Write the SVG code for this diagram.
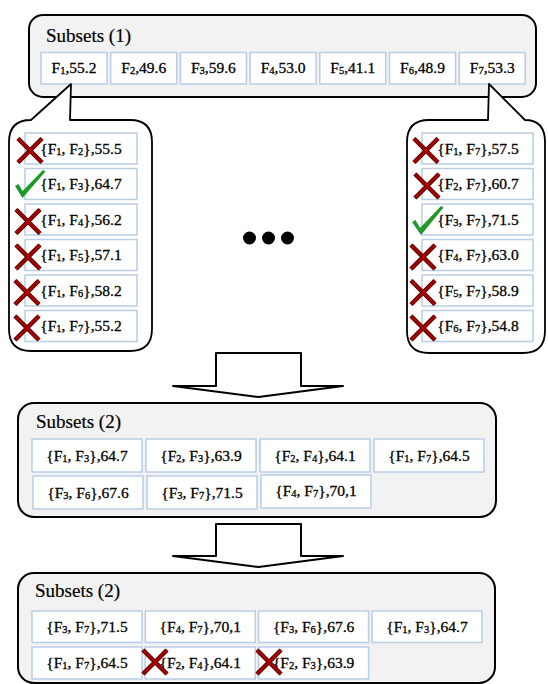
<svg xmlns="http://www.w3.org/2000/svg" width="548" height="684" viewBox="0 0 548 684">
<style>
.ctr{fill:#f2f2f2;stroke:#000;stroke-width:2}
.box{fill:#fff;stroke:#b9cde5;stroke-width:1.5}
.bub{fill:#fff;stroke:#000;stroke-width:1.8;stroke-linejoin:round}
.arr{fill:#fff;stroke:#000;stroke-width:2;stroke-linejoin:round}
.t{font-family:"Liberation Serif","Times New Roman",serif;font-size:15.5px;fill:#000;stroke:#000;stroke-width:0.3;text-anchor:middle}
.ttl{font-family:"Liberation Serif","Times New Roman",serif;font-size:19px;fill:#000;stroke:#000;stroke-width:0.2}
.s{font-size:10.5px;baseline-shift:-1px}
.xo{stroke:#4d0000;stroke-width:4.5;fill:none}
.xi{stroke:#a80000;stroke-width:2.5;fill:none}
.chk{fill:#1f9a2a}
</style>
<defs>
<g id="xm"><path class="xo" d="M-12,-12L12,12M12,-12L-12,12"/><path class="xi" d="M-12,-12L12,12M12,-12L-12,12"/></g>
</defs>

<g id="subsets1">
<rect class="ctr" x="29" y="15" width="507" height="82" rx="14"/>
<text class="ttl" x="46" y="42">Subsets (1)</text>
<rect class="box" x="41" y="52.5" width="66" height="31.5"/><text class="t" x="74" y="73">F<tspan class="s">1</tspan>,55.2</text>
<rect class="box" x="110.7" y="52.5" width="66" height="31.5"/><text class="t" x="143.7" y="73">F<tspan class="s">2</tspan>,49.6</text>
<rect class="box" x="180.4" y="52.5" width="66" height="31.5"/><text class="t" x="213.4" y="73">F<tspan class="s">3</tspan>,59.6</text>
<rect class="box" x="250.1" y="52.5" width="66" height="31.5"/><text class="t" x="283.1" y="73">F<tspan class="s">4</tspan>,53.0</text>
<rect class="box" x="319.8" y="52.5" width="66" height="31.5"/><text class="t" x="352.8" y="73">F<tspan class="s">5</tspan>,41.1</text>
<rect class="box" x="389.5" y="52.5" width="66" height="31.5"/><text class="t" x="422.5" y="73">F<tspan class="s">6</tspan>,48.9</text>
<rect class="box" x="459.2" y="52.5" width="66" height="31.5"/><text class="t" x="492.2" y="73">F<tspan class="s">7</tspan>,53.3</text>
</g>

<g id="bubble-left">
<path class="bub" d="M9,142Q9,120 31,120L71,84L70,120L130,120Q152,120 152,142L152,329Q152,351 130,351L31,351Q9,351 9,329Z"/>
<rect class="box" x="25" y="133" width="112" height="31"/><text class="t" x="81" y="153.5">{F<tspan class="s">1</tspan>, F<tspan class="s">2</tspan>},55.5</text>
<rect class="box" x="25" y="168.5" width="112" height="31"/><text class="t" x="81" y="189">{F<tspan class="s">1</tspan>, F<tspan class="s">3</tspan>},64.7</text>
<rect class="box" x="25" y="204" width="112" height="31"/><text class="t" x="81" y="224.5">{F<tspan class="s">1</tspan>, F<tspan class="s">4</tspan>},56.2</text>
<rect class="box" x="25" y="239.5" width="112" height="31"/><text class="t" x="81" y="260">{F<tspan class="s">1</tspan>, F<tspan class="s">5</tspan>},57.1</text>
<rect class="box" x="25" y="275" width="112" height="31"/><text class="t" x="81" y="295.5">{F<tspan class="s">1</tspan>, F<tspan class="s">6</tspan>},58.2</text>
<rect class="box" x="25" y="310.5" width="112" height="31"/><text class="t" x="81" y="331">{F<tspan class="s">1</tspan>, F<tspan class="s">7</tspan>},55.2</text>
<use href="#xm" x="30" y="150.5"/>
<path class="chk" d="M15,186L18.5,184L22.5,191L43,170L45.5,171.5L22.5,198Z"/>
<use href="#xm" x="28" y="221.5"/>
<use href="#xm" x="28" y="257"/>
<use href="#xm" x="27" y="292.5"/>
<use href="#xm" x="27" y="328"/>
</g>

<g id="ellipsis">
<circle cx="249.5" cy="238" r="6.5"/>
<circle cx="268.5" cy="238" r="6.5"/>
<circle cx="287.5" cy="238" r="6.5"/>
</g>

<g id="bubble-right">
<path class="bub" d="M407,142Q407,120 429,120L488,120L489,84L525,120Q545,120 545,142L545,331Q545,353 523,353L429,353Q407,353 407,331Z"/>
<rect class="box" x="422" y="133" width="111" height="31"/><text class="t" x="478" y="153.5">{F<tspan class="s">1</tspan>, F<tspan class="s">7</tspan>},57.5</text>
<rect class="box" x="422" y="168.5" width="111" height="31"/><text class="t" x="478" y="189">{F<tspan class="s">2</tspan>, F<tspan class="s">7</tspan>},60.7</text>
<rect class="box" x="422" y="204" width="111" height="31"/><text class="t" x="478" y="224.5">{F<tspan class="s">3</tspan>, F<tspan class="s">7</tspan>},71.5</text>
<rect class="box" x="422" y="239.5" width="111" height="31"/><text class="t" x="478" y="260">{F<tspan class="s">4</tspan>, F<tspan class="s">7</tspan>},63.0</text>
<rect class="box" x="422" y="275" width="111" height="31"/><text class="t" x="478" y="295.5">{F<tspan class="s">5</tspan>, F<tspan class="s">7</tspan>},58.9</text>
<rect class="box" x="422" y="310.5" width="111" height="31"/><text class="t" x="478" y="331">{F<tspan class="s">6</tspan>, F<tspan class="s">7</tspan>},54.8</text>
<use href="#xm" x="426" y="150.5"/>
<use href="#xm" x="427" y="186"/>
<path class="chk" d="M412,222L415.5,220L420,228L441,206L443.5,207.5L421,235Z"/>
<use href="#xm" x="423" y="257"/>
<use href="#xm" x="423" y="292.5"/>
<use href="#xm" x="423" y="328"/>
</g>

<g id="connectors">
<path class="arr" d="M216,353L301,353L301,386L343,386L258.5,397L173,386L216,386Z"/>
<path class="arr" d="M216,524L301,524L301,556L343,556L258.5,567L173,556L216,556Z"/>
</g>

<g id="subsets2">
<rect class="ctr" x="18" y="403" width="478" height="114" rx="16"/>
<text class="ttl" x="36" y="428">Subsets (2)</text>
<rect class="box" x="32" y="439" width="110" height="33"/><text class="t" x="87" y="460.5">{F<tspan class="s">1</tspan>, F<tspan class="s">3</tspan>},64.7</text>
<rect class="box" x="146" y="439" width="110" height="33"/><text class="t" x="201" y="460.5">{F<tspan class="s">2</tspan>, F<tspan class="s">3</tspan>},63.9</text>
<rect class="box" x="260" y="439" width="110" height="33"/><text class="t" x="315" y="460.5">{F<tspan class="s">2</tspan>, F<tspan class="s">4</tspan>},64.1</text>
<rect class="box" x="374" y="439" width="110" height="33"/><text class="t" x="429" y="460.5">{F<tspan class="s">1</tspan>, F<tspan class="s">7</tspan>},64.5</text>
<rect class="box" x="33" y="476" width="110" height="33"/><text class="t" x="88" y="497.5">{F<tspan class="s">3</tspan>, F<tspan class="s">6</tspan>},67.6</text>
<rect class="box" x="147" y="476" width="110" height="33"/><text class="t" x="202" y="497.5">{F<tspan class="s">3</tspan>, F<tspan class="s">7</tspan>},71.5</text>
<rect class="box" x="261" y="475" width="110" height="33"/><text class="t" x="316" y="495.5">{F<tspan class="s">4</tspan>, F<tspan class="s">7</tspan>},70,1</text>
</g>

<g id="subsets3">
<rect class="ctr" x="18" y="573" width="477" height="110" rx="16"/>
<text class="ttl" x="35" y="597">Subsets (2)</text>
<rect class="box" x="32" y="611" width="110" height="31.5"/><text class="t" x="87" y="631.5">{F<tspan class="s">3</tspan>, F<tspan class="s">7</tspan>},71.5</text>
<rect class="box" x="145.3" y="611" width="110" height="31.5"/><text class="t" x="200.3" y="631.5">{F<tspan class="s">4</tspan>, F<tspan class="s">7</tspan>},70,1</text>
<rect class="box" x="258.6" y="611" width="110" height="31.5"/><text class="t" x="313.6" y="631.5">{F<tspan class="s">3</tspan>, F<tspan class="s">6</tspan>},67.6</text>
<rect class="box" x="372" y="611" width="110" height="31.5"/><text class="t" x="427" y="631.5">{F<tspan class="s">1</tspan>, F<tspan class="s">3</tspan>},64.7</text>
<rect class="box" x="32" y="647" width="110" height="32"/><text class="t" x="87" y="668">{F<tspan class="s">1</tspan>, F<tspan class="s">7</tspan>},64.5</text>
<rect class="box" x="145.3" y="647" width="110" height="32"/><text class="t" x="200.3" y="668">{F<tspan class="s">2</tspan>, F<tspan class="s">4</tspan>},64.1</text>
<rect class="box" x="258.6" y="647" width="110" height="32"/><text class="t" x="313.6" y="668">{F<tspan class="s">2</tspan>, F<tspan class="s">3</tspan>},63.9</text>
<use href="#xm" x="155" y="662"/>
<use href="#xm" x="269" y="662"/>
</g>
</svg>
